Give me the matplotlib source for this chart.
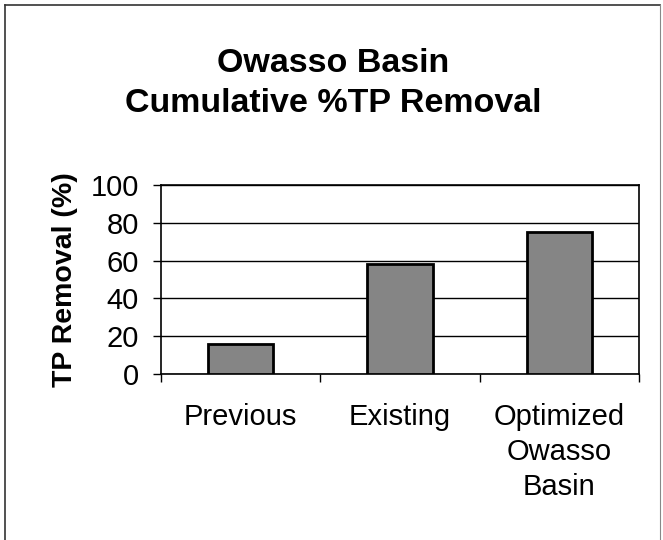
import matplotlib
matplotlib.use("Agg")
import matplotlib.pyplot as plt
from matplotlib.lines import Line2D

plt.rcParams["font.family"] = ["Liberation Sans", "DejaVu Sans"]

# datos
categorias = ["Previous", "Existing", "Optimized\nOwasso\nBasin"]
remocion_tp = [16, 58, 75]
ticks_y = [0, 20, 40, 60, 80, 100]

fig = plt.figure(figsize=(6.63, 5.40), dpi=100)
ax = fig.add_axes([0.2428, 0.3074, 0.7210, 0.3500])

x = list(range(len(categorias)))
ax.bar(x, remocion_tp, width=0.41, color="#858585",
       edgecolor="black", linewidth=2, zorder=3)

ax.set_xlim(-0.5, len(categorias) - 0.5)
ax.set_ylim(0, 100)
ax.set_yticks(ticks_y)
ax.yaxis.grid(True, color="black", linewidth=1, zorder=0)

# etiquetas de categoría centradas, marcas en los límites (estilo Excel)
ax.set_xticks(x)
ax.set_xticklabels(categorias, fontsize=21, linespacing=1.32)
ax.tick_params(axis="x", which="major", length=0, pad=21)
ax.set_xticks([i - 0.5 for i in range(len(categorias) + 1)], minor=True)
ax.tick_params(axis="x", which="minor", length=6, width=1, direction="out")
ax.tick_params(axis="y", length=6, width=1, direction="out",
               labelsize=21, pad=10)

for lado in ["left", "right", "top", "bottom"]:
    ax.spines[lado].set_color("black")
    ax.spines[lado].set_linewidth(1.2)

ax.set_ylabel("TP Removal (%)", fontsize=20.5, fontweight="bold", labelpad=9)

fig.text(0.502, 0.845, "Owasso Basin\nCumulative %TP Removal",
         ha="center", va="center", fontsize=24.5, fontweight="bold",
         linespacing=1.38)

# borde del área del gráfico
borde = dict(color="#333333", linewidth=1.2, transform=fig.transFigure)
fig.add_artist(Line2D([0.007, 0.007], [0.0, 0.990], **borde))
fig.add_artist(Line2D([0.007, 0.995], [0.990, 0.990], **borde))
fig.add_artist(Line2D([0.995, 0.995], [0.0, 0.990], color="#888888",
                      linewidth=0.8, transform=fig.transFigure))

fig.savefig("out.png", dpi=100)
